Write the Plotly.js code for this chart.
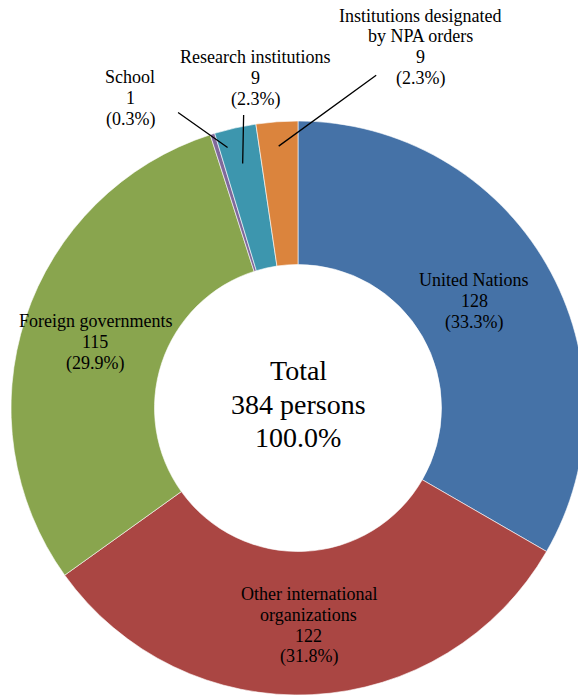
<!DOCTYPE html>
<html>
<head>
<meta charset="utf-8">
<script src="https://cdn.plot.ly/plotly-3.0.1.min.js"></script>
<style>
html,body{margin:0;padding:0;overflow:hidden;background:#fff;}
#chart{width:598px;height:710px;}
</style>
</head>
<body>
<div id="chart"></div>
<script>
// ---- data ----
const categories = ["United Nations", "Other international organizations", "Foreign governments", "School", "Research institutions", "Institutions designated by NPA orders"];
const labelLines = [["United Nations"], ["Other international", "organizations"], ["Foreign governments"], ["School"], ["Research institutions"], ["Institutions designated", "by NPA orders"]];
const persons = [128, 122, 115, 1, 9, 9];
const totalLabel = "Total";
const unitLabel = "persons";

// ---- style / layout ----
const colors = ["#4572A7", "#AA4643", "#89A54E", "#80699B", "#3D96AE", "#DB843D"];
const W = 598, H = 710, L = 11, T = 121, S = 574;
const CX = L + S / 2, CY = T + S / 2, R = S / 2;
const FONT = "'Liberation Serif', 'Times New Roman', serif";
const LABEL_SIZE = 18, LABEL_GAP = 21;
const CENTER_SIZE = 28, CENTER_GAP = 33.5;
// inside labels: fraction of outer radius plus pixel nudge
const insideR = [0.722, 0.755, 0.744, null, null, null];
const insideNudge = [[-3, -4], [0, 0], [0, 0], null, null, null];
// outside labels: leader-line tip radius, tip nudge (px), tail offset from tip (px), text centre (px)
const tipR = [null, null, null, 0.94, 0.88, 0.915];
const tipNudge = [null, null, null, [10, -3], [0, 2], [0, 0]];
const tailOffset = [null, null, null, [-51, -36], [1, -50], [99, -72]];
const outsideTextPx = [null, null, null, [130, 97], [255, 77], [420, 46]];

const total = persons.reduce((a, b) => a + b, 0);
const pct = v => (v / total * 100).toFixed(1) + "%";

function polarPx(angDeg, rFrac) {
  const a = angDeg * Math.PI / 180;
  return [CX + R * rFrac * Math.sin(a), CY - R * rFrac * Math.cos(a)];
}
function pxToPaper(px, py) { return [(px - L) / S, 1 - (py - T) / S]; }

const annotations = [];
function addLines(lines, cxPx, cyPx, size, gap) {
  const n = lines.length;
  lines.forEach((t, k) => {
    const p = pxToPaper(cxPx, cyPx + (k - (n - 1) / 2) * gap);
    annotations.push({x: p[0], y: p[1], xref: "paper", yref: "paper", xanchor: "center", yanchor: "middle",
      text: t, showarrow: false, font: {family: FONT, size: size, color: "#000"}});
  });
}

let cum = 0;
persons.forEach((v, i) => {
  const mid = (cum + v / 2) / total * 360;
  cum += v;
  const lines = labelLines[i].concat([String(v), "(" + pct(v) + ")"]);
  if (insideR[i] !== null) {
    const c = polarPx(mid, insideR[i]);
    addLines(lines, c[0] + insideNudge[i][0], c[1] + 1 + insideNudge[i][1], LABEL_SIZE, LABEL_GAP);
  } else {
    const tp = polarPx(mid, tipR[i]);
    const tipPx = [tp[0] + tipNudge[i][0], tp[1] + tipNudge[i][1]];
    const tip = pxToPaper(tipPx[0], tipPx[1]);
    annotations.push({x: tip[0], y: tip[1], xref: "paper", yref: "paper", text: "", showarrow: true,
      arrowhead: 0, arrowwidth: 1.3, arrowcolor: "#000", ax: tailOffset[i][0], ay: tailOffset[i][1],
      standoff: 0, startstandoff: 0});
    addLines(lines, outsideTextPx[i][0], outsideTextPx[i][1] + 1, LABEL_SIZE, LABEL_GAP);
  }
});
addLines([totalLabel, total + " " + unitLabel, "100.0%"], CX, CY - 4, CENTER_SIZE, CENTER_GAP);

const trace = {
  type: "pie",
  labels: categories,
  values: persons,
  hole: 0.5,
  sort: false,
  direction: "clockwise",
  rotation: 0,
  textinfo: "none",
  hoverinfo: "none",
  marker: {colors: colors, line: {color: "#ffffff", width: 0.6}},
  domain: {x: [0, 1], y: [0, 1]}
};

const layout = {
  width: W, height: H,
  margin: {l: L, r: W - L - S, t: T, b: H - T - S, pad: 0},
  showlegend: false,
  paper_bgcolor: "#fff",
  plot_bgcolor: "#fff",
  font: {family: FONT},
  annotations: annotations
};

Plotly.newPlot("chart", [trace], layout, {staticPlot: true, displayModeBar: false});
</script>
</body>
</html>
